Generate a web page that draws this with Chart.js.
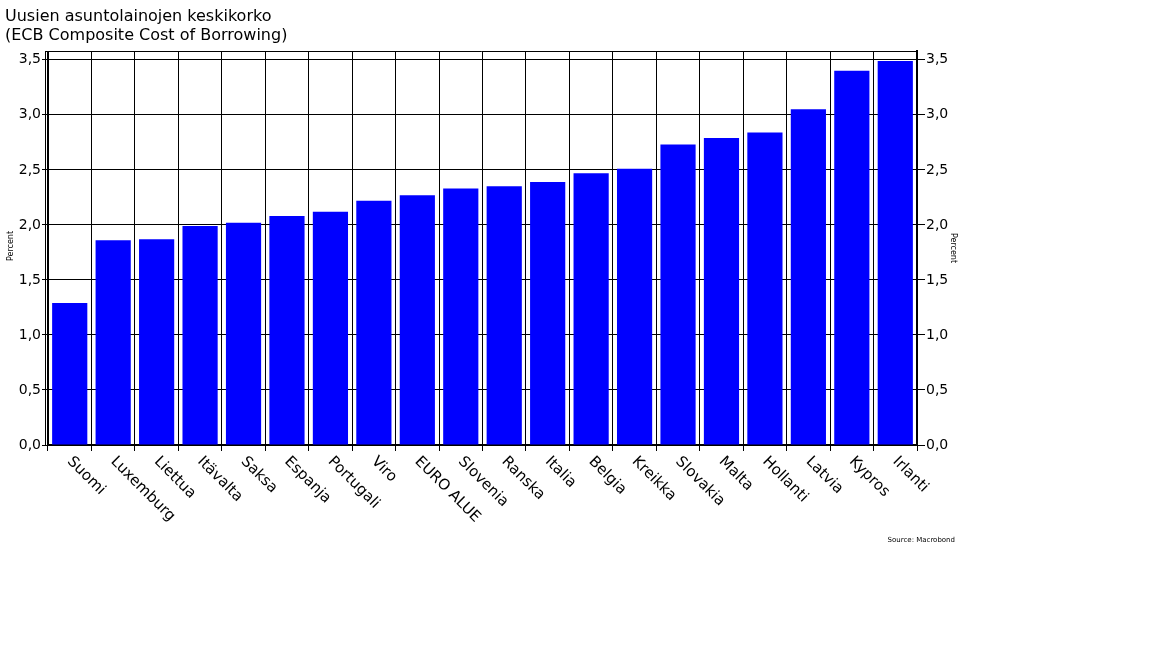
<!DOCTYPE html>
<html><head><meta charset="utf-8">
<script src="https://cdn.jsdelivr.net/npm/chart.js@4/dist/chart.umd.min.js"></script>
<style>html,body{margin:0;padding:0;background:#fff;}canvas{display:block;}</style>
</head><body>
<canvas id="c" width="1152" height="648"></canvas>
<script>
const titleLines = ["Uusien asuntolainojen keskikorko", "(ECB Composite Cost of Borrowing)"];
const categories = ["Suomi","Luxemburg","Liettua","Itävalta","Saksa","Espanja","Portugali","Viro","EURO ALUE","Slovenia","Ranska","Italia","Belgia","Kreikka","Slovakia","Malta","Hollanti","Latvia","Kypros","Irlanti"];
const values = [1.29,1.86,1.87,1.99,2.02,2.08,2.12,2.22,2.27,2.33,2.35,2.39,2.47,2.51,2.73,2.79,2.84,3.05,3.40,3.49];
const tickValues = [0,0.5,1.0,1.5,2.0,2.5,3.0,3.5];
const tickLabels = ["0,0","0,5","1,0","1,5","2,0","2,5","3,0","3,5"];
const axisTitle = "Percent";
const sourceText = "Source: Macrobond";

const FONT = '"DejaVu Sans"';

const overlay = {
  id: 'overlay',
  afterDraw(chart) {
    const ctx = chart.ctx, a = chart.chartArea, x = chart.scales.x;
    ctx.save();
    ctx.fillStyle = '#000';
    ctx.strokeStyle = '#000';
    // extra left line (double axis) and top border
    ctx.lineWidth = 1;
    ctx.beginPath();
    ctx.moveTo(a.left - 2.5, a.top); ctx.lineTo(a.left - 2.5, a.bottom);
    ctx.moveTo(a.left - 2.5, a.top + 0.5); ctx.lineTo(a.right, a.top + 0.5);
    ctx.stroke();
    // titles
    ctx.font = '16px ' + FONT;
    ctx.textAlign = 'left'; ctx.textBaseline = 'alphabetic';
    ctx.fillText(titleLines[0], 5, 21);
    ctx.fillText(titleLines[1], 5, 40);
    // x labels
    ctx.font = '15px ' + FONT;
    categories.forEach((c, i) => {
      const px = x.getPixelForValue(i);
      ctx.save();
      ctx.translate(px - 3, a.bottom + 17);
      ctx.rotate(Math.PI / 4);
      ctx.fillText(c, 0, 0);
      ctx.restore();
    });
    // axis titles
    ctx.font = '8px ' + FONT;
    ctx.textAlign = 'center'; ctx.textBaseline = 'middle';
    ctx.save(); ctx.translate(11, 246); ctx.rotate(-Math.PI / 2); ctx.fillText(axisTitle, 0, 0); ctx.restore();
    ctx.save(); ctx.translate(953, 248); ctx.rotate(Math.PI / 2); ctx.fillText(axisTitle, 0, 0); ctx.restore();
    // source
    ctx.font = '7px ' + FONT;
    ctx.textAlign = 'right'; ctx.textBaseline = 'alphabetic';
    ctx.fillText(sourceText, 955, 542);
    ctx.restore();
  }
};

const yTicksCfg = {
  font: { family: 'DejaVu Sans', size: 14 },
  color: '#000',
  padding: 1,
  callback: (v) => { const i = tickValues.indexOf(Math.round(v * 10) / 10); return i >= 0 ? tickLabels[i] : ''; }
};

new Chart(document.getElementById('c'), {
  type: 'bar',
  data: {
    labels: categories,
    datasets: [{ data: values, backgroundColor: '#0000FF', borderWidth: 0, barPercentage: 0.81, categoryPercentage: 1 }]
  },
  options: {
    responsive: false,
    animation: false,
    devicePixelRatio: 1,
    layout: { padding: { top: 51, left: 0, right: 0, bottom: 0 } },
    plugins: { legend: { display: false }, tooltip: { enabled: false }, title: { display: false } },
    scales: {
      x: {
        offset: true,
        grid: { display: true, offset: true, color: '#000', lineWidth: 1, tickLength: 6, drawOnChartArea: true },
        border: { display: true, color: '#000', width: 2 },
        ticks: { display: false },
        afterFit: (s) => { s.height = 648 - 445; }
      },
      y: {
        position: 'left',
        min: 0, max: 3.58,
        afterBuildTicks: (s) => { s.ticks = tickValues.map(v => ({ value: v })); },
        ticks: yTicksCfg,
        grid: { color: '#000', lineWidth: 1, tickLength: 6, drawOnChartArea: true },
        border: { display: true, color: '#000', width: 1 },
        afterFit: (s) => { s.width = 48; }
      },
      y2: {
        position: 'right',
        min: 0, max: 3.58,
        afterBuildTicks: (s) => { s.ticks = tickValues.map(v => ({ value: v })); },
        ticks: yTicksCfg,
        grid: { color: '#000', lineWidth: 1, tickLength: 8, drawOnChartArea: false },
        border: { display: true, color: '#000', width: 2 },
        afterFit: (s) => { s.width = 1152 - 917; }
      }
    }
  },
  plugins: [overlay]
});
</script>
</body></html>
